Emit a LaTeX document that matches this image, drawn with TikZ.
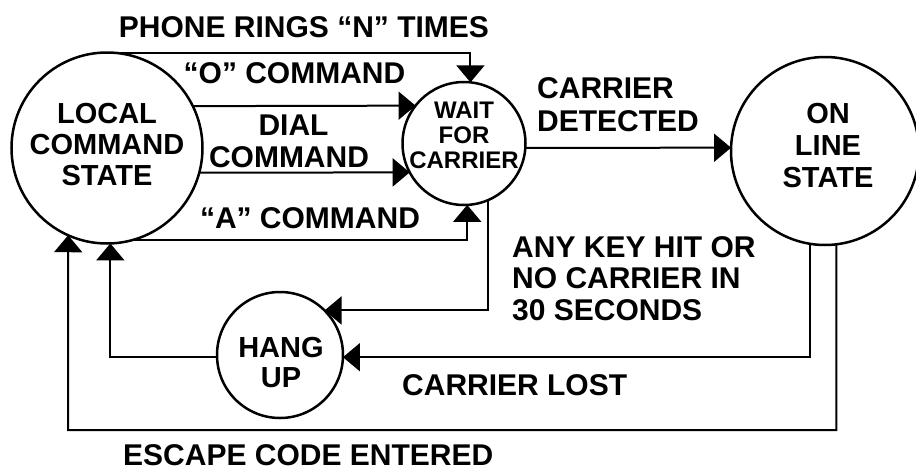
\documentclass[tikz,border=0pt]{standalone}
\usepackage{fontspec}
\setmainfont{Liberation Sans}
\usetikzlibrary{arrows.meta}
\begin{document}
\begin{tikzpicture}[x=1pt,y=-1pt,
  state/.style={circle,draw,line width=2.5pt,inner sep=0pt,outer sep=0pt},
  lbl/.style={font=\fontsize{30}{32}\selectfont\bfseries,inner sep=0pt},
  stxt/.style={font=\fontsize{29}{31}\selectfont\bfseries,inner sep=0pt,anchor=base},
  wtxt/.style={font=\fontsize{24}{25}\selectfont\bfseries,inner sep=0pt,anchor=base},
  conn/.style={line width=2pt,-{Triangle[length=17pt,width=28pt]}}]
\useasboundingbox (0,0) rectangle (916,472);
% states
\node[state,minimum size=191pt] (local) at (107,148) {};
\node[state,minimum size=123pt] (wait) at (464,143.5) {};
\node[state,minimum size=188pt] (online) at (825,151) {};
\node[state,minimum size=126pt] (hang) at (280,355) {};
% state texts
\node[stxt] (l1) at (107,123) {LOCAL};
\node[stxt] (l2) at (107,154) {COMMAND};
\node[stxt] (l3) at (107,185) {STATE};
\node[wtxt] (w1) at (464,118) {WAIT};
\node[wtxt] (w2) at (464,143) {FOR};
\node[wtxt] (w3) at (464,168) {CARRIER};
\node[stxt] (o1) at (828,123) {ON};
\node[stxt] (o2) at (828,155) {LINE};
\node[stxt] (o3) at (828,187) {STATE};
\node[stxt] (h1) at (281,357) {HANG};
\node[stxt] (h2) at (281,387) {UP};
% connectors
\draw[conn] (local.84) -| (wait.84);
\draw[conn] (local.26.1) -- (wait.142.4);
\draw[conn] (local.-15.2) -- (wait.208.7);
\draw[conn] (local.-74.4) -| (wait.-87.2);
\draw[conn] (wait.-4.2) -- (online.178.2);
\draw[conn] (wait.-67) |- (hang.45.6);
\draw[conn] (online.-99.8) |- (hang.-2.7);
\coordinate (esc) at (68,430);
\draw[conn] (online.-83.9) |- (esc) -- (local.-114.1);
\draw[conn] (hang.182.7) -| (local.-88.8);
% labels
\node[lbl,anchor=base] (t1) at (304,37) {PHONE RINGS “N” TIMES};
\node[lbl,anchor=base] (t2) at (294.5,83) {“O” COMMAND};
\node[lbl,anchor=base] (t3a) at (293.5,135) {DIAL};
\node[lbl,anchor=base] (t3b) at (289,167) {COMMAND};
\node[lbl,anchor=base] (t4) at (310,228) {“A” COMMAND};
\node[lbl,anchor=base west] (t5a) at (537,98) {CARRIER};
\node[lbl,anchor=base west] (t5b) at (537,131) {DETECTED};
\node[lbl,anchor=base west] (t6a) at (512,257) {ANY KEY HIT OR};
\node[lbl,anchor=base west] (t6b) at (512,288) {NO CARRIER IN};
\node[lbl,anchor=base west] (t6c) at (512,320) {30 SECONDS};
\node[lbl,anchor=base west] (t7) at (402,395) {CARRIER LOST};
\node[lbl,anchor=base west] (t8) at (123,465) {ESCAPE CODE ENTERED};
\end{tikzpicture}
\end{document}
